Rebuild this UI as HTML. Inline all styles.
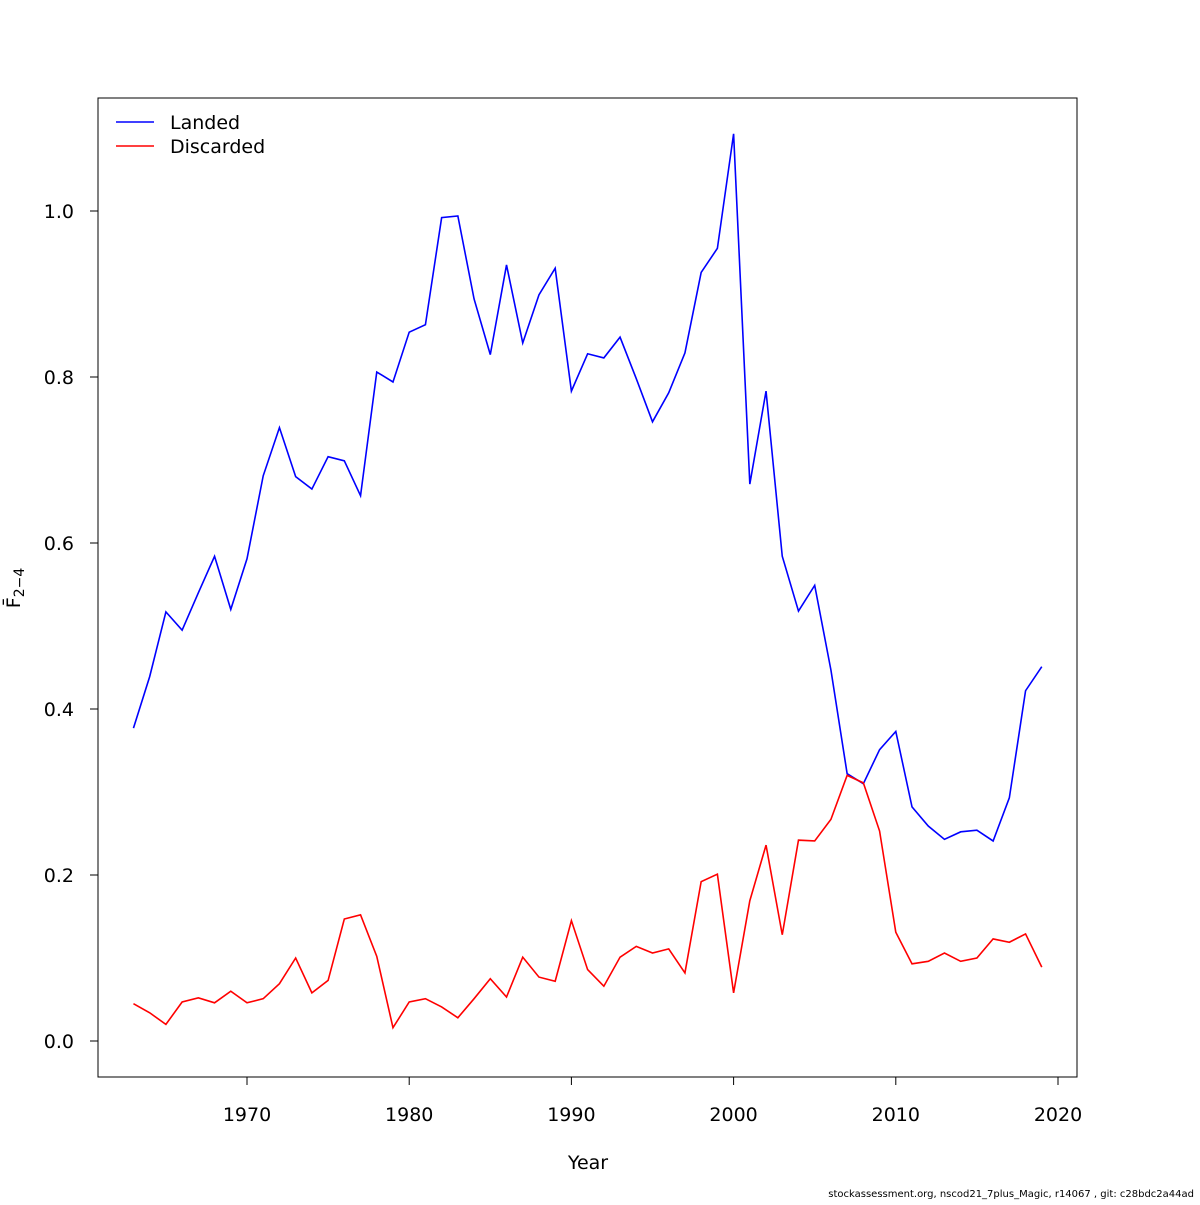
<!DOCTYPE html>
<html><head><meta charset="utf-8"><style>
body{margin:0;background:#fff;}
svg text{font-family:"DejaVu Sans","Liberation Sans",sans-serif;}
</style></head><body>
<svg id="chart" width="1200" height="1200" xmlns="http://www.w3.org/2000/svg">
<rect x="98" y="98" width="979" height="979" fill="none" stroke="#000" stroke-width="1"/>
<g id="axes"></g>
<g id="series"></g>
<g>
<line x1="116" y1="122" x2="154" y2="122" stroke="#0000ff" stroke-width="1.5"/>
<text x="170" y="129" font-size="19">Landed</text>
<line x1="116" y1="146" x2="154" y2="146" stroke="#ff0000" stroke-width="1.5"/>
<text x="170" y="153" font-size="19">Discarded</text>
</g>
<text x="588" y="1169" font-size="19" text-anchor="middle">Year</text>
<g transform="translate(20,588) rotate(-90)">
<text x="0" y="0" font-size="19" text-anchor="middle">F̄<tspan font-size="14" dy="4">2−4</tspan></text>
</g>
<text x="1194" y="1197" font-size="10" text-anchor="end">stockassessment.org, nscod21_7plus_Magic, r14067 , git: c28bdc2a44ad</text>
</svg>
<script>
const years=[];for(let y=1963;y<=2019;y++)years.push(y);
const landed=[0.377,0.439,0.517,0.495,0.540,0.584,0.520,0.581,0.681,0.739,0.680,0.665,0.704,0.699,0.657,0.806,0.794,0.854,0.863,0.992,0.994,0.894,0.827,0.935,0.841,0.899,0.931,0.783,0.828,0.823,0.848,0.798,0.746,0.781,0.829,0.926,0.955,1.093,0.671,0.783,0.584,0.518,0.549,0.447,0.322,0.310,0.351,0.373,0.282,0.259,0.243,0.252,0.254,0.241,0.293,0.422,0.451];
const discarded=[0.045,0.034,0.020,0.047,0.052,0.046,0.060,0.046,0.051,0.069,0.100,0.058,0.073,0.147,0.152,0.102,0.016,0.047,0.051,0.041,0.028,0.051,0.075,0.053,0.101,0.077,0.072,0.145,0.086,0.066,0.101,0.114,0.106,0.111,0.082,0.192,0.201,0.058,0.169,0.236,0.128,0.242,0.241,0.267,0.320,0.311,0.253,0.131,0.093,0.096,0.106,0.096,0.100,0.123,0.119,0.129,0.089];
const xTicks=[1970,1980,1990,2000,2010,2020];
const yTicks=[0.0,0.2,0.4,0.6,0.8,1.0];
const yTickLabels=["0.0","0.2","0.4","0.6","0.8","1.0"];
const NS="http://www.w3.org/2000/svg";
const xs=v=>247+(v-1970)*16.22;
const ys=v=>1041-v*830;
const axes=document.getElementById('axes'),series=document.getElementById('series');
function mk(t,a,p){const e=document.createElementNS(NS,t);for(const k in a)e.setAttribute(k,a[k]);p.appendChild(e);return e;}
let l=mk('line',{x1:xs(1970),x2:xs(2020),y1:1077,y2:1077,stroke:'#000'},axes);


xTicks.forEach(t=>{
 const tk=mk('line',{x1:xs(t),x2:xs(t),y1:1077,y2:1085,stroke:'#000'},axes);
 
 
 const tx=mk('text',{x:xs(t),y:1121,'font-size':19,'text-anchor':'middle'},axes);tx.textContent=t;
 
 
});
l=mk('line',{x1:98,x2:98,y1:ys(0),y2:ys(1),stroke:'#000'},axes);


yTicks.forEach((t,i)=>{
 const tk=mk('line',{x1:90,x2:98,y1:ys(t),y2:ys(t),stroke:'#000'},axes);
 
 
 const tx=mk('text',{x:74,y:ys(t)+7,'font-size':19,'text-anchor':'end'},axes);tx.textContent=yTickLabels[i];
 
 
});
function line(vals,col,name){
 const p=mk('polyline',{points:vals.map((v,i)=>xs(years[i])+','+ys(v)).join(' '),fill:'none',stroke:col,'stroke-width':1.6},series);
 
 
}
line(landed,'#0000ff','landed-line');
line(discarded,'#ff0000','discarded-line');
</script>
</body></html>
